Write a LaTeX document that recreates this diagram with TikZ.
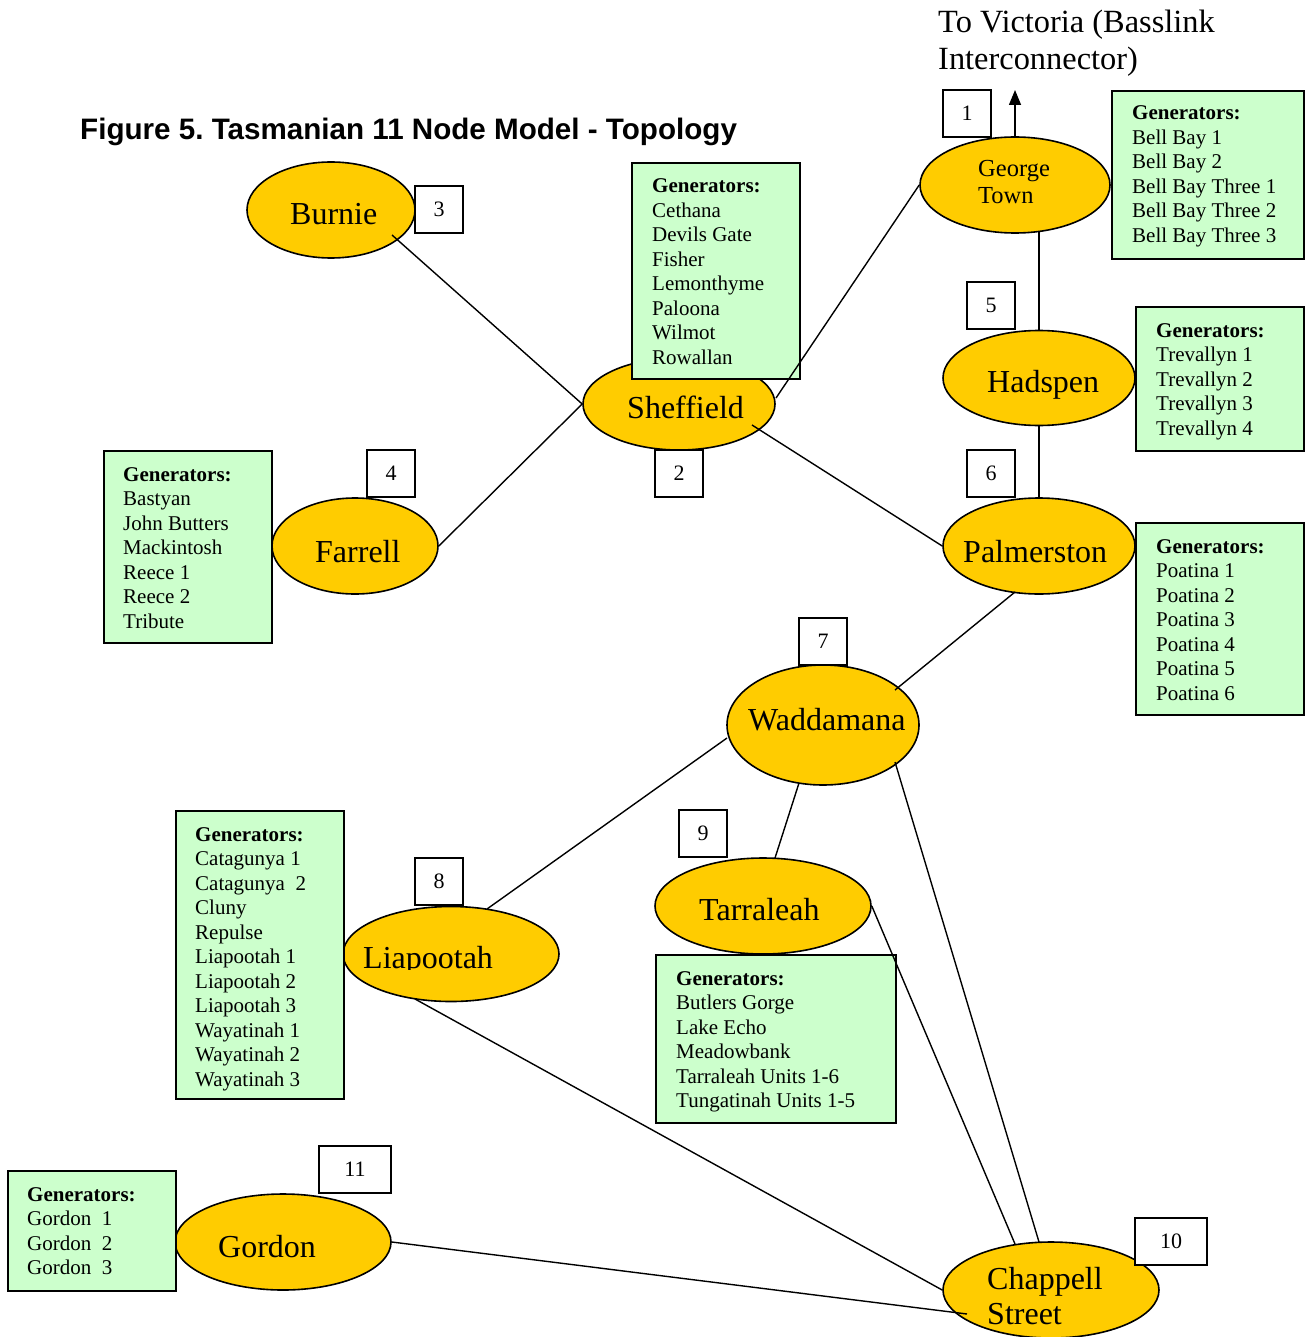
\documentclass[tikz,border=0pt]{standalone}
\usepackage{fontspec}
\setmainfont{Liberation Serif}
\newfontfamily\titlefont{Liberation Sans}
\usetikzlibrary{shapes.geometric,arrows.meta}
\definecolor{busfill}{HTML}{FFCC00}
\definecolor{genfill}{HTML}{CCFFCC}
\newcommand\genlines[1]{\begin{tabular}[t]{@{}l@{}}#1\end{tabular}}
\frenchspacing
\begin{document}
\begin{tikzpicture}[x=1pt,y=-1pt,
  bus/.style={ellipse,draw=black,line width=1.6pt,fill=busfill,inner sep=0pt},
  genbox/.style={draw=black,line width=1.6pt,fill=genfill,anchor=north west,inner sep=0pt},
  gentext/.style={anchor=base west,inner sep=0pt,font=\fontsize{21}{24.5}\selectfont},
  numbox/.style={draw=black,line width=1.4pt,fill=white,inner sep=0pt,minimum height=47pt,font=\fontsize{22}{26}\selectfont},
  busname/.style={anchor=base west,inner sep=0pt,font=\fontsize{32}{35}\selectfont},
  link/.style={line width=1.4pt}]
\useasboundingbox (0,0) rectangle (1311,1337);

% titles
\node[anchor=base west,inner sep=0pt,font=\titlefont\bfseries\fontsize{29.6}{33}\selectfont] (title) at (80,140) {Figure 5. Tasmanian 11 Node Model - Topology};
\node[anchor=base west,inner sep=0pt,font=\fontsize{32.4}{37}\selectfont] (victext) at (938,33) {\genlines{To Victoria (Basslink\\Interconnector)}};

% bus ellipses
\node[bus,minimum width=168pt,minimum height=96pt] (burnie) at (331,210) {};
\node[bus,minimum width=190pt,minimum height=96pt] (georgetown) at (1015,185) {};
\node[bus,minimum width=192pt,minimum height=92pt] (sheffield) at (679,404) {};
\node[bus,minimum width=192pt,minimum height=95pt] (hadspen) at (1039,378) {};
\node[bus,minimum width=192pt,minimum height=96pt] (palmerston) at (1039,546) {};
\node[bus,minimum width=166pt,minimum height=96pt] (farrell) at (355,546) {};
\node[bus,minimum width=192pt,minimum height=120pt] (waddamana) at (823,725) {};
\node[bus,minimum width=216pt,minimum height=96pt] (tarraleah) at (763,906) {};
\node[bus,minimum width=216pt,minimum height=95pt] (liapootah) at (451,954) {};
\node[bus,minimum width=216pt,minimum height=96pt] (gordon) at (283,1242) {};
\node[bus,minimum width=216pt,minimum height=96pt] (chappell) at (1051,1290) {};

% bus names
\node[busname] (tburnie) at (290,225) {Burnie};
\node[busname,font=\fontsize{24.5}{26.5}\selectfont] (tgeorge) at (978,177) {\genlines{George\\Town}};
\node[busname] (tsheffield) at (627,418) {Sheffield};
\node[busname] (thadspen) at (987,392) {Hadspen};
\node[busname] (tpalmerston) at (963,562) {Palmerston};
\node[busname] (tfarrell) at (315,562) {Farrell};
\node[busname] (twaddamana) at (748,730) {Waddamana};
\node[busname] (ttarraleah) at (699,920) {Tarraleah};
\begin{scope}
\clip (340,900) rectangle (560,969);
\node[busname] (tliapootah) at (363,968) {Liapootah};
\end{scope}
\node[busname] (tgordon) at (218,1257) {Gordon};
\node[busname] (tchappell) at (987,1289) {\genlines{Chappell\\Street}};

% generator boxes
\node[genbox,minimum width=168pt,minimum height=216pt] (gen2) at (631,162) {};
\node[gentext] (gen2t) at (652,193) {\genlines{\textbf{Generators:}\\Cethana\\Devils Gate\\Fisher\\Lemonthyme\\Paloona\\Wilmot\\Rowallan}};
\node[genbox,minimum width=192pt,minimum height=168pt] (gen1) at (1111,90) {};
\node[gentext] (gen1t) at (1132,120) {\genlines{\textbf{Generators:}\\Bell Bay 1\\Bell Bay 2\\Bell Bay Three 1\\Bell Bay Three 2\\Bell Bay Three 3}};
\node[genbox,minimum width=168pt,minimum height=144pt] (gen5) at (1135,306) {};
\node[gentext] (gen5t) at (1156,337) {\genlines{\textbf{Generators:}\\Trevallyn 1\\Trevallyn 2\\Trevallyn 3\\Trevallyn 4}};
\node[genbox,minimum width=168pt,minimum height=192pt] (gen6) at (1135,522) {};
\node[gentext] (gen6t) at (1156,553) {\genlines{\textbf{Generators:}\\Poatina 1\\Poatina 2\\Poatina 3\\Poatina 4\\Poatina 5\\Poatina 6}};
\node[genbox,minimum width=168pt,minimum height=192pt] (gen4) at (103,450) {};
\node[gentext] (gen4t) at (123,481) {\genlines{\textbf{Generators:}\\Bastyan\\John Butters\\Mackintosh\\Reece 1\\Reece 2\\Tribute}};
\node[genbox,minimum width=168pt,minimum height=288pt] (gen8) at (175,810) {};
\node[gentext] (gen8t) at (195,841) {\genlines{\textbf{Generators:}\\Catagunya 1\\Catagunya~~2\\Cluny\\Repulse\\Liapootah 1\\Liapootah 2\\Liapootah 3\\Wayatinah 1\\Wayatinah 2\\Wayatinah 3}};
\node[genbox,minimum width=240pt,minimum height=168pt] (gen9) at (655,954) {};
\node[gentext] (gen9t) at (676,985) {\genlines{\textbf{Generators:}\\Butlers Gorge\\Lake Echo\\Meadowbank\\Tarraleah Units 1-6\\Tungatinah Units 1-5}};
\node[genbox,minimum width=168pt,minimum height=120pt] (gen11) at (7,1170) {};
\node[gentext] (gen11t) at (27,1201) {\genlines{\textbf{Generators:}\\Gordon~~1\\Gordon~~2\\Gordon~~3}};

% number boxes
\node[numbox,minimum width=48pt] (n1) at (967,113.5) {1};
\node[numbox,minimum width=48pt] (n3) at (439,209.5) {3};
\node[numbox,minimum width=48pt] (n2) at (679,473.5) {2};
\node[numbox,minimum width=48pt] (n4) at (391,473.5) {4};
\node[numbox,minimum width=48pt] (n5) at (991,305.5) {5};
\node[numbox,minimum width=48pt] (n6) at (991,473.5) {6};
\node[numbox,minimum width=48pt] (n7) at (823,641.5) {7};
\node[numbox,minimum width=48pt] (n9) at (703,833.5) {9};
\node[numbox,minimum width=48pt] (n8) at (439,881.5) {8};
\node[numbox,minimum width=72pt] (n11) at (355,1169.5) {11};
\node[numbox,minimum width=72pt] (n10) at (1171,1241.5) {10};

% connectors
\coordinate (victoria) at (1015,90);
\draw[link,-{Triangle[width=12pt,length=15pt]}] (georgetown.north) -- (victoria);
\draw[link] ([shift={(61,25)}]burnie.center) -- (sheffield.west);
\draw[link] (farrell.east) -- (sheffield.west);
\draw[link] ([shift={(97,-6)}]sheffield.center) -- (georgetown.west);
\draw[link] ([shift={(73,21)}]sheffield.center) -- (palmerston.west);
\draw[link] ([shift={(24,46)}]georgetown.center) -- ([shift={(0,-47)}]hadspen.center);
\draw[link] (hadspen.south) -- (palmerston.north);
\draw[link] ([shift={(-24,46)}]palmerston.center) -- ([shift={(72,-35)}]waddamana.center);
\draw[link] ([shift={(-96,13)}]waddamana.center) -- ([shift={(36,-45)}]liapootah.center);
\draw[link] ([shift={(-24,58)}]waddamana.center) -- ([shift={(12,-48)}]tarraleah.center);
\draw[link] ([shift={(72,37)}]waddamana.center) -- ([shift={(-12,-48)}]chappell.center);
\draw[link] (tarraleah.east) -- ([shift={(-36,-46)}]chappell.center);
\draw[link] ([shift={(-36,45)}]liapootah.center) -- (chappell.west);
\draw[link] (gordon.east) -- ([shift={(-84,24)}]chappell.center);
\end{tikzpicture}
\end{document}
